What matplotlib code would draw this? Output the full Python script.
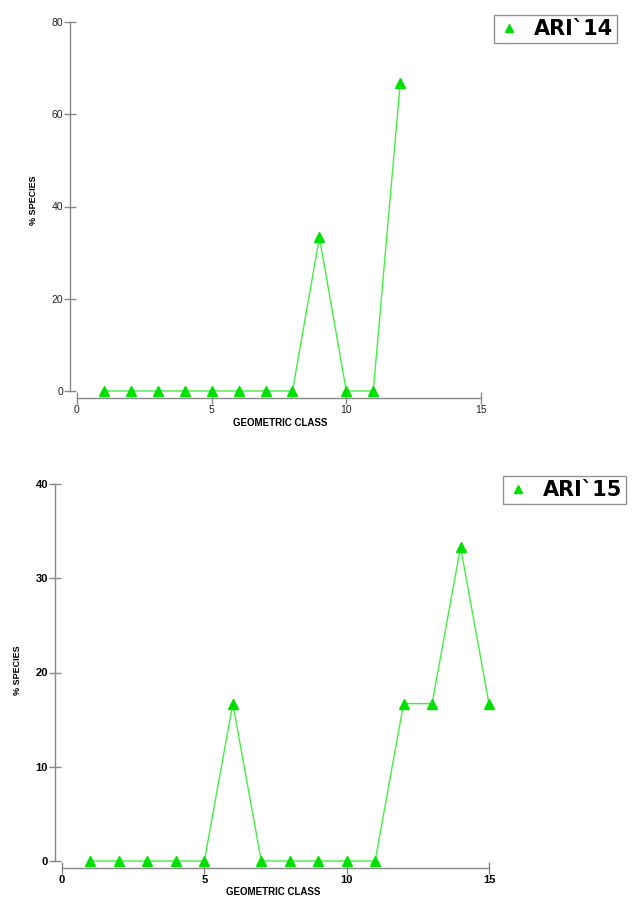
import matplotlib
matplotlib.use("Agg")
import matplotlib.pyplot as plt

plt.rcParams['font.family'] = ['Liberation Sans', 'DejaVu Sans']

classes14 = [1, 2, 3, 4, 5, 6, 7, 8, 9, 10, 11, 12]
species14 = [0, 0, 0, 0, 0, 0, 0, 0, 33.3, 0, 0, 66.7]
classes15 = [1, 2, 3, 4, 5, 6, 7, 8, 9, 10, 11, 12, 13, 14, 15]
species15 = [0, 0, 0, 0, 0, 16.7, 0, 0, 0, 0, 0, 16.7, 16.7, 33.3, 16.7]
xticks = [0, 5, 10, 15]
yticks14 = [0, 20, 40, 60, 80]
yticks15 = [0, 10, 20, 30, 40]

W, H = 636, 899
fig = plt.figure(figsize=(W / 100, H / 100), dpi=100)

def make_ax(l, r, t, b):
    return fig.add_axes([l / W, 1 - b / H, (r - l) / W, (b - t) / H])

def style(ax, ymax, yticks, bold_ticks):
    ax.set_xlim(0, 15)
    ax.set_ylim(0, ymax)
    ax.set_xticks(xticks)
    ax.set_yticks(yticks)
    for s in ['top', 'right']:
        ax.spines[s].set_visible(False)
    ax.spines['left'].set_position(('outward', 5))
    ax.spines['bottom'].set_position(('outward', 5))
    for s in ['left', 'bottom']:
        ax.spines[s].set_color('#888888')
        ax.spines[s].set_linewidth(1.0)
    ax.tick_params(direction='inout', length=8, width=1, color='#888888',
                   labelsize=8 if bold_ticks else 7.5, pad=1)
    for lab in ax.get_xticklabels() + ax.get_yticklabels():
        lab.set_fontweight('bold' if bold_ticks else 'normal')
        lab.set_color('black' if bold_ticks else '#222222')
    ax.patch.set_alpha(0)

def add_legend(ax, x, y):
    leg = ax.legend(loc='upper left', bbox_to_anchor=(x / W, 1 - y / H),
                    bbox_transform=fig.transFigure, frameon=True, fancybox=False,
                    prop={'size': 15, 'weight': 'bold', 'family': 'DejaVu Sans'},
                    handlelength=1.0, borderpad=0.2, handletextpad=0.7,
                    borderaxespad=0, markerscale=0.9)
    leg.get_frame().set_edgecolor('#777777')
    leg.get_frame().set_linewidth(1)
    for h in leg.get_lines():
        h.set_linestyle('none')
    return leg

ax1 = make_ax(77, 481, 22, 391)
ax1.plot(classes14, species14, color='#44ee44', lw=1, marker='^', ms=7,
         mfc='#00e000', mec='#00e000', clip_on=False, label='ARI`14')
style(ax1, 80, yticks14, False)
fig.text(33 / W, 1 - 200 / H, '% SPECIES', rotation=90, ha='center', va='center',
         fontsize=6.5, fontweight='bold')
fig.text(280 / W, 1 - 423 / H, 'GEOMETRIC CLASS', ha='center', va='center',
         fontsize=7, fontweight='bold')
add_legend(ax1, 494, 15)

ax2 = make_ax(62, 489, 484, 861)
ax2.plot(classes15, species15, color='#44ee44', lw=1, marker='^', ms=7,
         mfc='#00e000', mec='#00e000', clip_on=False, label='ARI`15')
style(ax2, 40, yticks15, True)
fig.text(17 / W, 1 - 670 / H, '% SPECIES', rotation=90, ha='center', va='center',
         fontsize=6.5, fontweight='bold')
fig.text(273 / W, 1 - 892 / H, 'GEOMETRIC CLASS', ha='center', va='center',
         fontsize=7, fontweight='bold')
add_legend(ax2, 503, 476)

fig.savefig('out.png', dpi=100)
